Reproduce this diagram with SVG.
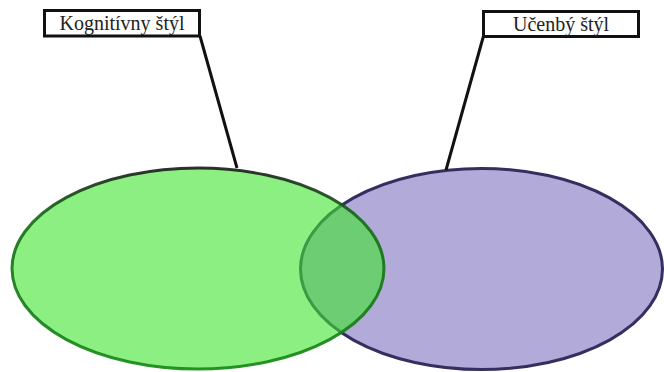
<svg xmlns="http://www.w3.org/2000/svg" width="664" height="372" viewBox="0 0 664 372">
<style>
.box{fill:#fff;stroke:#111;stroke-width:3}
.lbl{font-family:'Liberation Serif','DejaVu Serif',serif;font-size:20px;fill:#222;text-anchor:middle}
.conn{stroke:#111;stroke-width:3;fill:none}
</style>
<defs>
<linearGradient id="gs" x1="0" y1="0" x2="0" y2="1">
<stop offset="0" stop-color="#1a1a1a"/>
<stop offset="0.25" stop-color="#166a16"/>
<stop offset="1" stop-color="#128812"/>
</linearGradient>
</defs>
<g id="purple-ellipse">
<ellipse cx="481.5" cy="269" rx="181" ry="100.5" fill="#b2aad8" stroke="#332f60" stroke-width="3"/>
</g>
<g id="green-ellipse">
<ellipse cx="198" cy="268.5" rx="186" ry="100.5" fill="#3ee42e" fill-opacity="0.6" stroke="url(#gs)" stroke-width="3" stroke-opacity="0.9"/>
</g>
<g id="connectors">
<line class="conn" x1="200" y1="36" x2="237" y2="168"/>
<line class="conn" x1="483.5" y1="36" x2="446" y2="170"/>
</g>
<g id="kognitivny">
<rect class="box" x="44.5" y="10.5" width="155" height="25.5"/>
<text class="lbl" x="122" y="30">Kognitívny štýl</text>
</g>
<g id="ucenby">
<rect class="box" x="483.5" y="11.5" width="155" height="25"/>
<text class="lbl" x="561" y="30.5">Učenbý štýl</text>
</g>
</svg>
